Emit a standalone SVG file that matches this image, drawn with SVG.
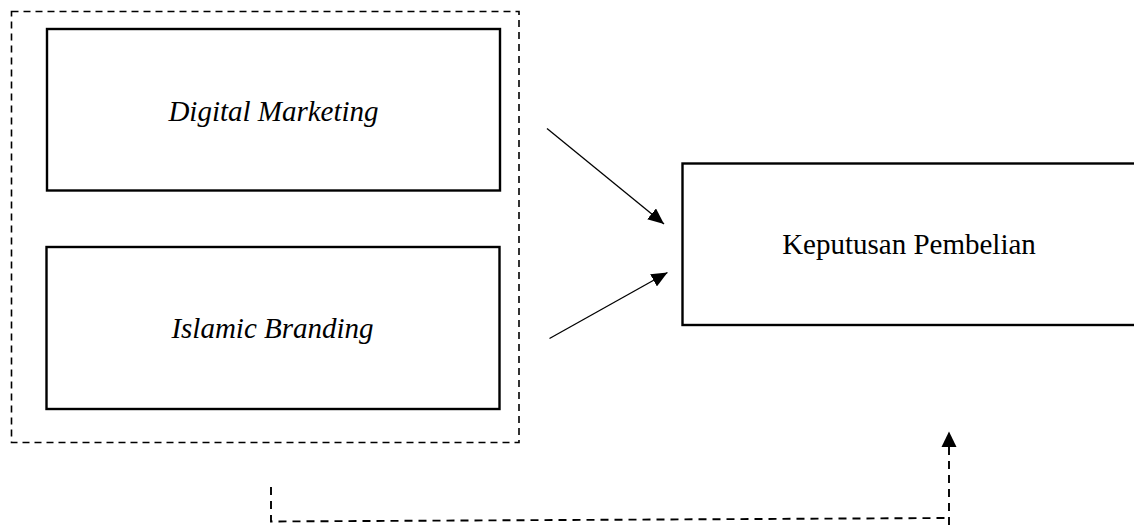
<svg xmlns="http://www.w3.org/2000/svg" width="1134" height="530" viewBox="0 0 1134 530">
  <style>
    .box { fill: #ffffff; stroke: #000000; stroke-width: 2.4; }
    .group { fill: none; stroke: #000000; stroke-width: 1.6; stroke-dasharray: 7 5; }
    .label { font-family: "Liberation Serif", "Times New Roman", serif; font-size: 29px; fill: #000000; text-anchor: middle; }
    .it { font-style: italic; }
    .edge { fill: none; stroke: #000000; stroke-width: 1.3; }
    .dashed { fill: none; stroke: #000000; stroke-width: 1.9; stroke-dasharray: 8 6; }
  </style>
  <defs>
    <marker id="arrow" viewBox="0 0 16 14" refX="16" refY="7" markerWidth="16" markerHeight="14" markerUnits="userSpaceOnUse" orient="auto">
      <path d="M0,0 L16,7 L0,14 Z" fill="#000000"/>
    </marker>
  </defs>
  <rect width="1134" height="530" fill="#ffffff"/>

  <g id="group-independent">
    <rect class="group" x="11.5" y="11.5" width="507.5" height="431"/>
  </g>

  <g id="node-digital-marketing">
    <rect class="box" x="47" y="29" width="453" height="161.5"/>
    <text class="label it" x="273.5" y="121">Digital Marketing</text>
  </g>

  <g id="node-islamic-branding">
    <rect class="box" x="46.5" y="247" width="453" height="162"/>
    <text class="label it" x="272.5" y="338">Islamic Branding</text>
  </g>

  <g id="node-keputusan-pembelian">
    <rect class="box" x="682.5" y="163.5" width="470" height="161.5"/>
    <text class="label" x="909" y="254">Keputusan Pembelian</text>
  </g>

  <g id="connectors">
    <line class="edge" x1="547" y1="128.5" x2="664" y2="224" marker-end="url(#arrow)"/>
    <line class="edge" x1="549.5" y1="338.5" x2="667.5" y2="272.5" marker-end="url(#arrow)"/>
    <polyline class="dashed" points="271,487 271,521.5 949,518"/>
    <line class="dashed" x1="949" y1="447" x2="949" y2="530"/>
    <path d="M949,431.5 L956.5,447 L941.5,447 Z" fill="#000000"/>
  </g>
</svg>
